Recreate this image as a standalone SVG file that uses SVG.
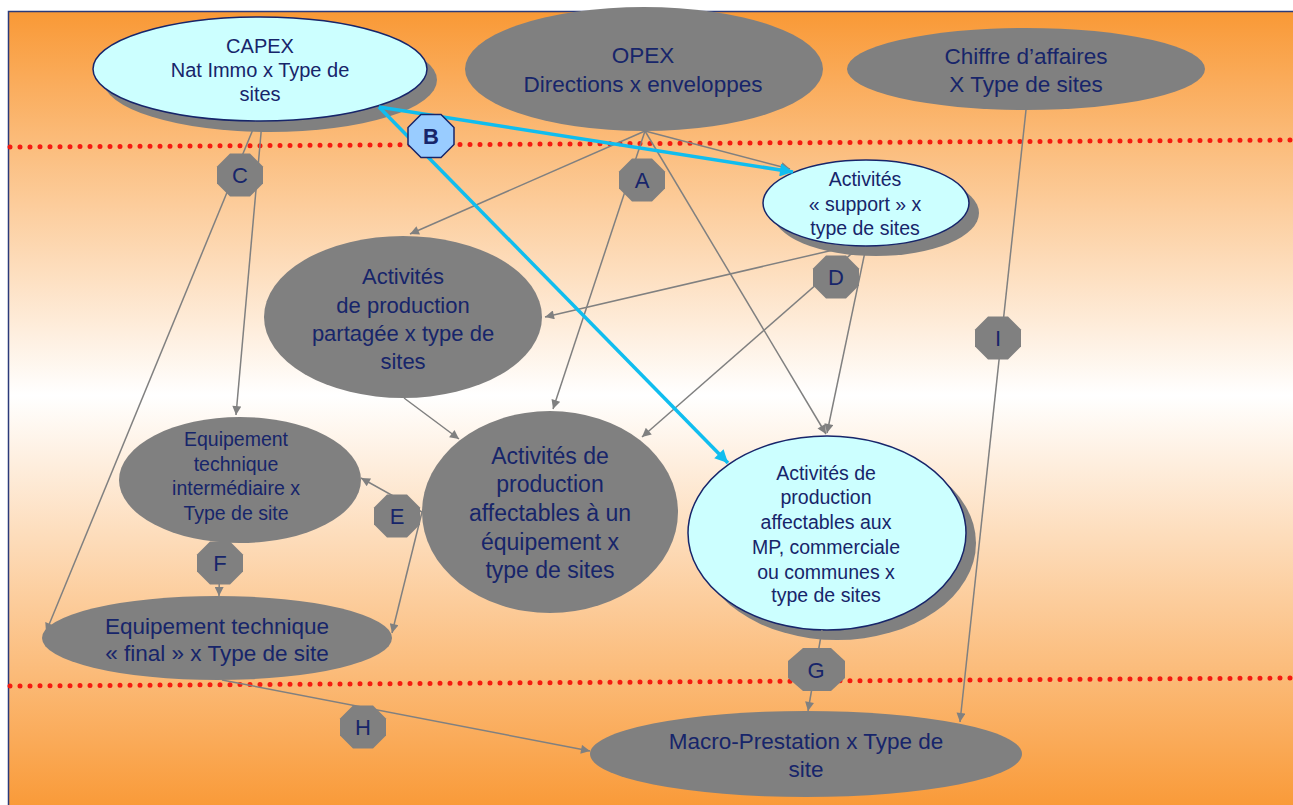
<svg xmlns="http://www.w3.org/2000/svg" width="1293" height="805" viewBox="0 0 1293 805">
<defs>
<linearGradient id="bg" x1="0" y1="0" x2="0" y2="1">
<stop offset="0" stop-color="#F99936"/>
<stop offset="0.48" stop-color="#FFFFFF"/>
<stop offset="1" stop-color="#F99936"/>
</linearGradient>
<marker id="ag" viewBox="0 0 10 10" refX="10" refY="5" markerWidth="11" markerHeight="9" markerUnits="userSpaceOnUse" orient="auto">
<path d="M0,0 L10,5 L0,10 z" fill="#808080"/>
</marker>
<marker id="ab" viewBox="0 0 10 10" refX="10" refY="5" markerWidth="16" markerHeight="13" markerUnits="userSpaceOnUse" orient="auto">
<path d="M0,0 L10,5 L0,10 z" fill="#10BDEF"/>
</marker>
<polygon id="oct" points="-10,-21.5 10,-21.5 23,-8.5 23,8.5 10,21.5 -10,21.5 -23,8.5 -23,-8.5"/>
</defs>
<style>
.t{font-family:"Liberation Sans",Arial,sans-serif;fill:#17256A;text-anchor:middle}
.gray{fill:#808080}
.cyan{fill:#CCFFFF;stroke:#17256A;stroke-width:1.5}
.sh{fill:#808080}
.c{stroke:#808080;stroke-width:1.5;fill:none;marker-end:url(#ag)}
.cb{stroke:#10BDEF;stroke-width:3.5;fill:none;marker-end:url(#ab)}
.dot{stroke:#F41A10;stroke-width:5;stroke-linecap:round;stroke-dasharray:0 10;fill:none}
.oct{fill:#808080}
.lbl{font-size:22px}
</style>
<rect x="0" y="0" width="1293" height="805" fill="#FFFFFF"/>
<rect x="8.5" y="11.5" width="1290" height="800" fill="url(#bg)" stroke="#2B3A7A" stroke-width="1.5"/>
<g id="separators">
<line class="dot" x1="10" y1="147" x2="1293" y2="140"/>
<line class="dot" x1="10" y1="686" x2="1293" y2="678"/>
</g>
<g id="capex">
<ellipse class="sh" cx="270" cy="80" rx="167" ry="52"/>
<ellipse class="cyan" cx="260" cy="69" rx="167" ry="52"/>
<text class="t" font-size="20"><tspan x="260" y="53">CAPEX</tspan><tspan x="260" y="77">Nat Immo x Type de</tspan><tspan x="260" y="101">sites</tspan></text>
</g>
<g id="opex">
<ellipse class="gray" cx="644" cy="69" rx="179" ry="62"/>
<text class="t" font-size="22.5"><tspan x="643" y="63">OPEX</tspan><tspan x="643" y="92">Directions x enveloppes</tspan></text>
</g>
<g id="ca">
<ellipse class="gray" cx="1026" cy="69" rx="179" ry="41"/>
<text class="t" font-size="22.5"><tspan x="1026" y="64">Chiffre d’affaires</tspan><tspan x="1026" y="92">X Type de sites</tspan></text>
</g>
<g id="support">
<ellipse class="sh" cx="876" cy="213" rx="103" ry="43"/>
<ellipse class="cyan" cx="866" cy="203" rx="103" ry="43"/>
<text class="t" font-size="19.5"><tspan x="865" y="186">Activités</tspan><tspan x="865" y="211">« support » x</tspan><tspan x="865" y="235">type de sites</tspan></text>
</g>
<g id="partagee">
<ellipse class="gray" cx="403" cy="317" rx="139" ry="81"/>
<text class="t" font-size="22"><tspan x="403" y="284">Activités</tspan><tspan x="403" y="313">de production</tspan><tspan x="403" y="341">partagée x type de</tspan><tspan x="403" y="369">sites</tspan></text>
</g>
<g id="affectables-equipement">
<ellipse class="gray" cx="550" cy="512" rx="128" ry="101"/>
<text class="t" font-size="23"><tspan x="550" y="464">Activités de</tspan><tspan x="550" y="492">production</tspan><tspan x="550" y="521">affectables à un</tspan><tspan x="550" y="550">équipement x</tspan><tspan x="550" y="578">type de sites</tspan></text>
</g>
<g id="intermediaire">
<ellipse class="gray" cx="240" cy="480" rx="121" ry="63"/>
<text class="t" font-size="19.5"><tspan x="236" y="446">Equipement</tspan><tspan x="236" y="471">technique</tspan><tspan x="236" y="495">intermédiaire x</tspan><tspan x="236" y="520">Type de site</tspan></text>
</g>
<g id="final">
<ellipse class="gray" cx="217" cy="638" rx="175" ry="42"/>
<text class="t" font-size="22.5"><tspan x="217" y="634">Equipement technique</tspan><tspan x="217" y="661">« final » x Type de site</tspan></text>
</g>
<g id="affectables-mp">
<ellipse class="sh" cx="837" cy="543" rx="139" ry="97"/>
<ellipse class="cyan" cx="827" cy="533" rx="139" ry="97"/>
<text class="t" font-size="19.5"><tspan x="826" y="480">Activités de</tspan><tspan x="826" y="504">production</tspan><tspan x="826" y="529">affectables aux</tspan><tspan x="826" y="554">MP, commerciale</tspan><tspan x="826" y="579">ou communes x</tspan><tspan x="826" y="602">type de sites</tspan></text>
</g>
<g id="macro">
<ellipse class="gray" cx="806" cy="754" rx="216" ry="43"/>
<text class="t" font-size="22.5"><tspan x="806" y="749">Macro-Prestation x Type de</tspan><tspan x="806" y="777">site</tspan></text>
</g>
<g id="connectors">
<path class="c" d="M645,131 L410,234"/>
<path class="c" d="M645,131 L553,409"/>
<path class="c" d="M645,131 L826,434"/>
<path class="c" d="M645,131 L790,169"/>
<path class="c" d="M262,122 L236,415"/>
<path class="c" d="M256,122 L46,632"/>
<path class="c" d="M842,248 L545,317"/>
<path class="c" d="M858,248 L642,437"/>
<path class="c" d="M866,247 L827,433"/>
<path class="c" d="M404,398 L459,439"/>
<path class="c" d="M422,512 L361,478"/>
<path class="c" d="M422,512 L392,633"/>
<path class="c" d="M220,544 L219,596"/>
<path class="c" d="M222,680 L590,751"/>
<path class="c" d="M822,630 L808,711"/>
<path class="c" d="M1026,110 L960,722"/>
<path class="cb" d="M379,107 L793,172"/>
<path class="cb" d="M379,107 L728,463"/>
</g>
<g id="label-A"><use href="#oct" class="oct" x="642" y="180"/><text class="t lbl" x="642" y="188">A</text></g>
<g id="label-B"><use href="#oct" x="431" y="136" fill="#99CCFF" stroke="#17256A" stroke-width="1.5"/><text class="t lbl" x="431" y="144" font-weight="bold">B</text></g>
<g id="label-C"><use href="#oct" class="oct" x="240" y="175"/><text class="t lbl" x="240" y="183">C</text></g>
<g id="label-D"><use href="#oct" class="oct" x="836" y="277"/><text class="t lbl" x="836" y="285">D</text></g>
<g id="label-E"><use href="#oct" class="oct" x="397" y="516"/><text class="t lbl" x="397" y="524">E</text></g>
<g id="label-F"><use href="#oct" class="oct" x="220" y="563"/><text class="t lbl" x="220" y="571">F</text></g>
<g id="label-G"><polygon class="oct" points="803,648 831,648 845,661 845,678 831,691 803,691 788,678 788,661"/><text class="t lbl" x="816" y="678">G</text></g>
<g id="label-H"><use href="#oct" class="oct" x="363" y="727"/><text class="t lbl" x="363" y="735">H</text></g>
<g id="label-I"><use href="#oct" class="oct" x="998" y="338"/><text class="t lbl" x="998" y="346">I</text></g>
</svg>
